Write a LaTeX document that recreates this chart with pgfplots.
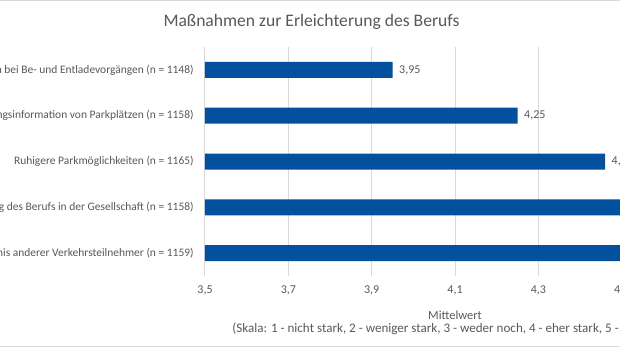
\documentclass[border=0pt]{standalone}
\usepackage{fontspec}
\setmainfont{Carlito}
\usepackage{pgfplots}
\pgfplotsset{compat=1.18}
\definecolor{barblue}{RGB}{2,80,158}
\definecolor{txt}{RGB}{89,89,89}
\definecolor{gridc}{RGB}{217,217,217}
\begin{document}
\begin{tikzpicture}[x=0.75pt,y=0.75pt]
\clip (0,0) rectangle (620,349);
\fill[white] (0,0) rectangle (620,349);
\draw[gridc, line width=0.75pt] (0,348.5) -- (620,348.5);
\draw[gridc, line width=0.75pt] (0,2) -- (620,2);
\node[txt, font=\fontsize{13.2}{16}\selectfont] at (311.5,327.5) {Maßnahmen zur Erleichterung des Berufs};
\begin{axis}[
  at={(153.75pt,54.75pt)}, anchor=south west,
  scale only axis, width=375pt, height=171.75pt,
  xbar, bar width=12pt,
  xmin=3.5, xmax=4.7,
  ymin=0.5, ymax=5.5, y dir=reverse,
  ytick={1,2,3,4,5},
  yticklabels={Hilfestellungen bei Be- und Entladevorgängen (n = 1148),
    Belegungsinformation von Parkplätzen (n = 1158),
    Ruhigere Parkmöglichkeiten (n = 1165),
    Höhere Wertschätzung des Berufs in der Gesellschaft (n = 1158),
    Mehr Verständnis anderer Verkehrsteilnehmer (n = 1159)},
  xtick={3.5,3.7,3.9,4.1,4.3,4.5,4.7},
  xmajorgrids, grid style={gridc, line width=0.75pt},
  axis line style={draw=none},
  major tick length=0pt,
  tick label style={txt, font=\fontsize{9}{11}\selectfont},
  yticklabel style={xshift=-5pt, font=\fontsize{8.6}{10}\selectfont},
  xticklabel style={yshift=-4pt, /pgf/number format/.cd, use comma, fixed, fixed zerofill, precision=1, assume math mode=true},
  nodes near coords,
  nodes near coords style={txt, font=\fontsize{9}{11}\selectfont, xshift=1.5pt, /pgf/number format/.cd, use comma, fixed, fixed zerofill, precision=2, assume math mode=true},
  xlabel={Mittelwert\\{\fontsize{9.8}{9.6}\selectfont(Skala: 1 - nicht stark, 2 - weniger stark, 3 - weder noch, 4 - eher stark, 5 - sehr stark)}},
  xlabel style={align=center, txt, font=\fontsize{9.3}{9.6}\selectfont, yshift=-4.75pt},
]
\addplot[fill=barblue, draw=none] coordinates {(3.95,1) (4.25,2) (4.46,3) (4.62,4) (4.66,5)};
\end{axis}
\end{tikzpicture}
\end{document}
